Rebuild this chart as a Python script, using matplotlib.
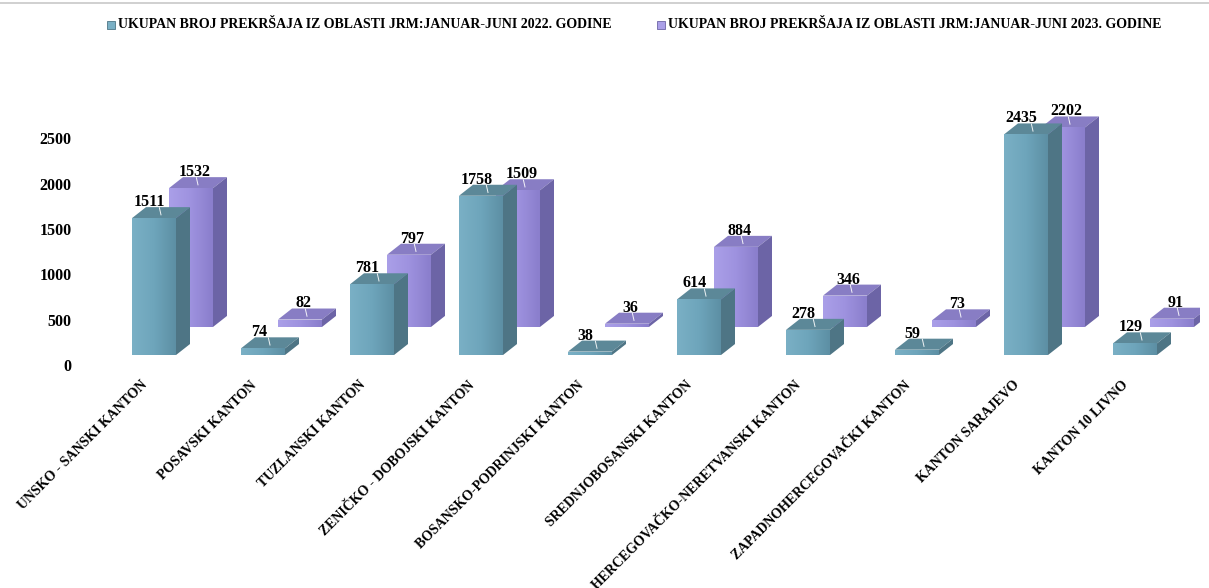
import numpy as np
import matplotlib
matplotlib.use("Agg")
import matplotlib.pyplot as plt
from matplotlib.patches import Polygon, Rectangle
from matplotlib.lines import Line2D
from matplotlib.colors import LinearSegmentedColormap

plt.rcParams['font.family'] = ['Liberation Serif', 'DejaVu Serif']
plt.rcParams['font.weight'] = 'bold'

# podaci
kantoni = ['UNSKO - SANSKI KANTON', 'POSAVSKI KANTON', 'TUZLANSKI KANTON',
           'ZENIČKO - DOBOJSKI KANTON', 'BOSANSKO-PODRINJSKI KANTON',
           'SREDNJOBOSANSKI KANTON', 'HERCEGOVAČKO-NERETVANSKI KANTON',
           'ZAPADNOHERCEGOVAČKI KANTON', 'KANTON SARAJEVO', 'KANTON 10 LIVNO']
prekrsaji_2022 = [1511, 74, 781, 1758, 38, 614, 278, 59, 2435, 129]
prekrsaji_2023 = [1532, 82, 797, 1509, 36, 884, 346, 73, 2202, 91]
legenda = ['UKUPAN BROJ PREKRŠAJA IZ OBLASTI JRM:JANUAR-JUNI 2022. GODINE',
           'UKUPAN BROJ PREKRŠAJA IZ OBLASTI JRM:JANUAR-JUNI 2023. GODINE']
y_ticks = [0, 500, 1000, 1500, 2000, 2500]

# boje: gradijent prednje strane, vrh, bok
boje_2022 = (['#7ab0c5', '#6ea5bb', '#5d8fa4'], '#5c8898', '#4e7585')
boje_2023 = (['#aa9fe8', '#9e92df', '#8a7ecc'], '#887dc4', '#6c64a6')

W, H = 1209, 588
fig = plt.figure(figsize=(W / 100, H / 100), dpi=100)

# osa: 0 na pikselu 365, 0.0906 px po jedinici
px_unit = 0.0906
ax_left, ax_right, ax_bot, ax_top = 80, 1200, 365, 100
ax = fig.add_axes([ax_left / W, 1 - ax_bot / H, (ax_right - ax_left) / W, (ax_bot - ax_top) / H])
cat_px = 109.0
x0_px = 154
xlim = ((ax_left - x0_px) / cat_px, (ax_right - x0_px) / cat_px)
ylim = (0, (ax_bot - ax_top) / px_unit)

width = 44 / cat_px
dx = 14 / cat_px
dy = 11 / px_unit
base_front = 110
back_shift_x = 37 / cat_px
base_back = 420
grad = np.linspace(0, 1, 64).reshape(1, -1)


def bar3d(x, v, bottom, boje, z, lbl_dx):
    front, top, side = boje
    cmap = LinearSegmentedColormap.from_list('f', front)
    bars = ax.bar(x, v, width=width, bottom=bottom, color=front[1], zorder=z, linewidth=0)
    l, r, t = x - width / 2, x + width / 2, bottom + v
    im = ax.imshow(grad, cmap=cmap, aspect='auto', extent=(l, r, bottom, t),
                   zorder=z + 0.001, interpolation='bilinear')
    im.set_clip_path(bars[0])
    ax.add_patch(Polygon([(l, t), (r, t), (r + dx, t + dy), (l + dx, t + dy)],
                         closed=True, facecolor=top, edgecolor='none', zorder=z))
    ax.add_patch(Polygon([(r, bottom), (r + dx, bottom + dy), (r + dx, t + dy), (r, t)],
                         closed=True, facecolor=side, edgecolor='none', zorder=z))
    # vodilja i oznaka vrijednosti
    cx = x + dx / 2
    ax.plot([cx - 0.015, cx], [t + dy * 0.95, t + dy * 0.3], color='white', lw=0.7,
            alpha=0.9, zorder=z + 0.002)
    ax.text(x + lbl_dx, t + dy + 12, str(v), ha='center', va='baseline', fontsize=11.5,
            fontweight='bold', zorder=10)


x = np.arange(len(kantoni))
for i in range(len(kantoni)):
    bar3d(x[i] + back_shift_x, prekrsaji_2023[i], base_back, boje_2023, 2 + i * 0.01, 0.03)
    bar3d(x[i], prekrsaji_2022[i], base_front, boje_2022, 3 + i * 0.01, -0.04)

ax.set_xlim(*xlim)
ax.set_ylim(*ylim)
for s in ax.spines.values():
    s.set_visible(False)
ax.set_yticks(y_ticks)
ax.set_yticklabels([str(t) for t in y_ticks], fontsize=11.5, fontweight='bold')
ax.tick_params(axis='y', length=0, pad=6)
ax.set_xticks(x - 0.08)
ax.set_xticklabels(kantoni, rotation=45, ha='right', va='center', rotation_mode='anchor',
                   fontsize=10, fontweight='bold')
ax.tick_params(axis='x', length=0, pad=13)

# legenda
for (xp, txt, boje) in [(107, legenda[0], boje_2022), (657, legenda[1], boje_2023)]:
    fig.patches.append(Rectangle((xp / W, 1 - 29 / H), 8 / W, 8 / H, transform=fig.transFigure,
                                 facecolor=boje[0][0], edgecolor=boje[2], lw=0.6))
    fig.text((xp + 11) / W, 1 - 24.5 / H, txt, fontsize=10, fontweight='bold', va='center', ha='left')

fig.add_artist(Line2D([0, 1], [1 - 3 / H, 1 - 3 / H], color='#c8c8c8', lw=1.2, transform=fig.transFigure))

fig.savefig('out.png', dpi=100)
